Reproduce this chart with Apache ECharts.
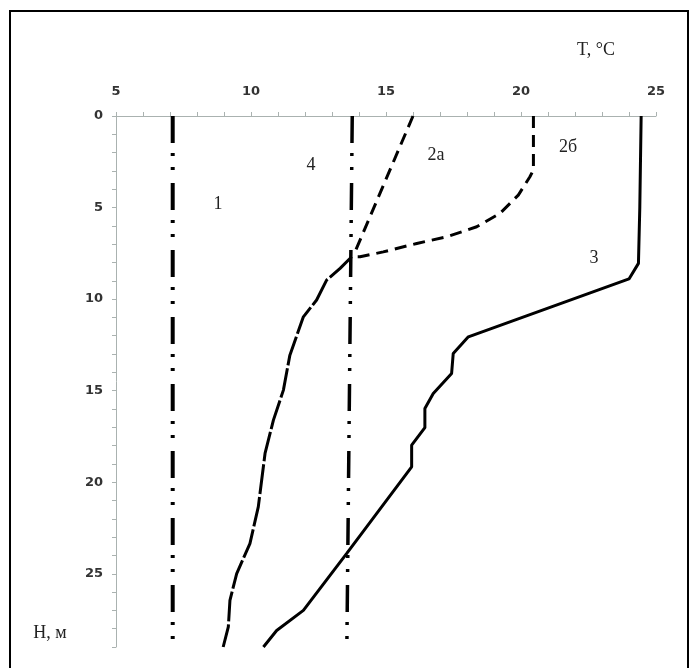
<!DOCTYPE html>
<html>
<head>
<meta charset="utf-8">
<script src="https://cdn.jsdelivr.net/npm/echarts@6/dist/echarts.min.js"></script>
<style>
html,body{margin:0;padding:0;background:#fff;}
#c{width:691px;height:668px;}
</style>
</head>
<body>
<div id="c"></div>
<script>
// Temperature T (°C) vs depth H (m): pairs [T, H]
const curve1 = [[7.1, 0], [7.1, 29]];
const curve4 = [[13.75, 0], [13.55, 29]];
const curve2a = [[16.0, 0], [13.8, 7.6]];
const curve2b = [[20.46, 0], [20.46, 2.95], [20.33, 3.32], [19.9, 4.32], [19.22, 5.32], [18.36, 6.05],
                 [17.25, 6.6], [16.14, 6.96], [14.9, 7.42], [14.04, 7.69], [13.73, 7.69]];
const curve2lower = [[13.73, 7.69], [13.3, 8.32], [12.8, 8.96], [12.43, 10.05], [11.94, 10.97],
                     [11.44, 13.06], [11.2, 14.97], [10.83, 16.61], [10.52, 18.43], [10.27, 21.35],
                     [9.96, 23.35], [9.47, 24.99], [9.22, 26.45], [9.16, 27.9], [8.97, 29.0]];
const curve3 = [[24.45, 0], [24.4, 5], [24.35, 8.05], [24.0, 8.9], [18.05, 12.06], [17.49, 12.97],
                [17.43, 14.06], [16.75, 15.15], [16.44, 15.97], [16.44, 17.02], [15.95, 17.98],
                [15.95, 19.16], [13.54, 23.9], [11.94, 27.0], [10.95, 28.1], [10.46, 29.0]];
const xTickLabels = [5, 10, 15, 20, 25];
const yTickLabels = [0, 5, 10, 15, 20, 25];
const curveNames = ['1', '4', '2а', '2б', '3'];

const chart = echarts.init(document.getElementById('c'));
const axisGray = '#aab2b0';
const labelFont = {fontFamily: 'DejaVu Sans', fontWeight: 'bold', fontSize: 13, color: '#333'};
const dashDot = [27, 10, 3, 11, 3, 13];

function line(data, width, dash) {
  return {
    type: 'line', data: data, showSymbol: false, symbol: 'none', animation: false,
    lineStyle: {color: '#000', width: width, type: dash, cap: 'butt'},
    z: 3
  };
}

chart.setOption({
  animation: false,
  backgroundColor: '#fff',
  grid: {left: 116, right: 35, top: 116, bottom: 21},
  xAxis: {
    type: 'value', position: 'top', min: 5, max: 25, interval: 1,
    axisLine: {show: true, lineStyle: {color: axisGray, width: 1}},
    axisTick: {show: true, length: 4, lineStyle: {color: axisGray}},
    splitLine: {show: false},
    axisLabel: Object.assign({margin: 18, formatter: v => xTickLabels.includes(v) ? String(v) : ''}, labelFont)
  },
  yAxis: {
    type: 'value', inverse: true, min: 0, max: 29, interval: 1,
    axisLine: {show: true, lineStyle: {color: axisGray, width: 1}},
    axisTick: {show: true, length: 4, lineStyle: {color: axisGray}},
    splitLine: {show: false},
    axisLabel: Object.assign({margin: 13, formatter: v => yTickLabels.includes(v) ? String(v) : ''}, labelFont)
  },
  series: [
    line(curve1, 4, dashDot),
    line(curve4, 3.5, dashDot),
    line(curve2a, 3, [12, 7]),
    line(curve2b, 3, [12, 7]),
    line(curve2lower, 3, [30, 3]),
    line(curve3, 3, 'solid')
  ],
  graphic: [
    {type: 'rect', shape: {x: 10, y: 11, width: 678, height: 700}, style: {fill: 'none', stroke: '#000', lineWidth: 2}, z: 10},
    {type: 'text', x: 596, y: 50, style: {text: 'T, °C', font: '18px "Liberation Serif"', fill: '#222', textAlign: 'center', textVerticalAlign: 'middle'}},
    {type: 'text', x: 50, y: 633, style: {text: 'H, м', font: '18px "Liberation Serif"', fill: '#222', textAlign: 'center', textVerticalAlign: 'middle'}},
    {type: 'text', x: 218, y: 204, style: {text: curveNames[0], font: '18px "Liberation Serif"', fill: '#222', textAlign: 'center', textVerticalAlign: 'middle'}},
    {type: 'text', x: 311, y: 165, style: {text: curveNames[1], font: '18px "Liberation Serif"', fill: '#222', textAlign: 'center', textVerticalAlign: 'middle'}},
    {type: 'text', x: 436, y: 155, style: {text: curveNames[2], font: '18px "Liberation Serif"', fill: '#222', textAlign: 'center', textVerticalAlign: 'middle'}},
    {type: 'text', x: 568, y: 147, style: {text: curveNames[3], font: '18px "Liberation Serif"', fill: '#222', textAlign: 'center', textVerticalAlign: 'middle'}},
    {type: 'text', x: 594, y: 258, style: {text: curveNames[4], font: '18px "Liberation Serif"', fill: '#222', textAlign: 'center', textVerticalAlign: 'middle'}}
  ]
});
</script>
</body>
</html>
